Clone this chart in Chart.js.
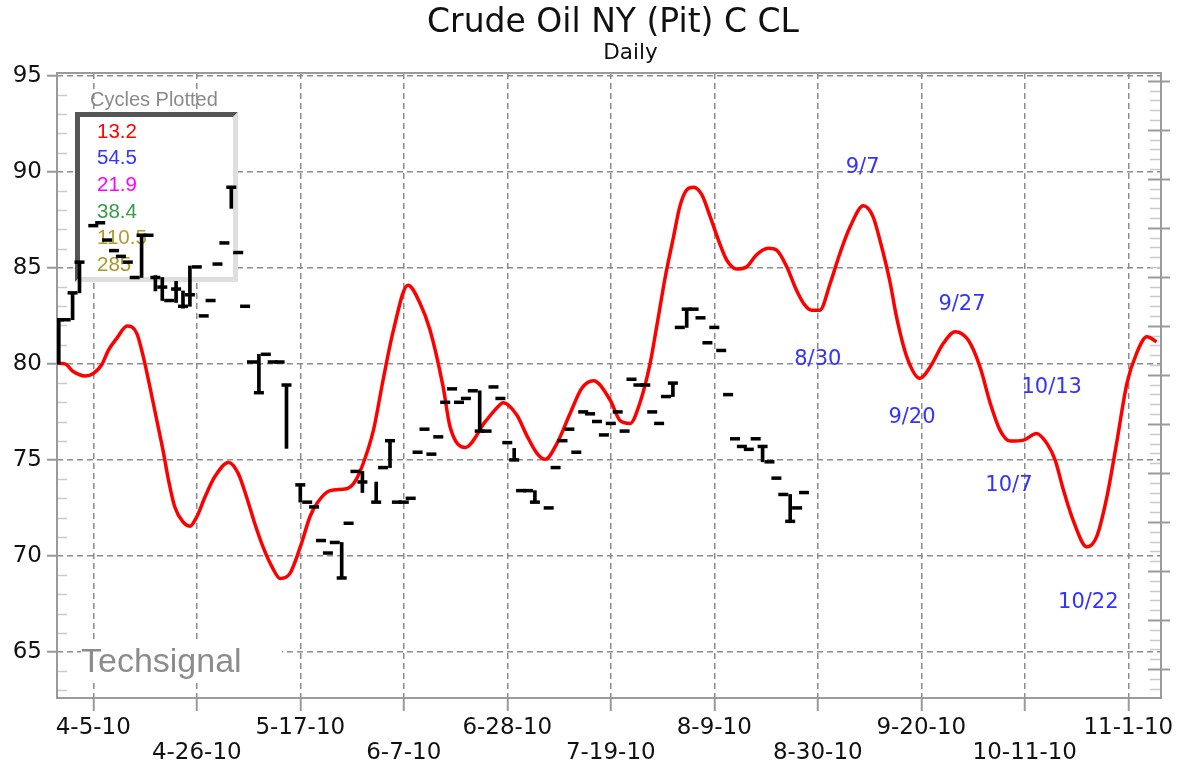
<!DOCTYPE html>
<html><head><meta charset="utf-8">
<script src="https://cdn.jsdelivr.net/npm/chart.js@4.4.0/dist/chart.umd.min.js"></script>
<style>html,body{margin:0;padding:0;background:#fff;overflow:hidden}
#wrap{position:relative;width:1185px;height:767px}</style>
</head><body><div id="wrap"><canvas id="c"></canvas></div>
<script>
// ---- data ----
const tickDays = [5,20,35,50,65,80,95,110,125,140,155];
const tickLabels = ['4-5-10','4-26-10','5-17-10','6-7-10','6-28-10','7-19-10','8-9-10','8-30-10','9-20-10','10-11-10','11-1-10'];
const yTickValues = [65,70,75,80,85,90,95];

const cycleDays = [-0.3,0.9,2.1,3.8,5.0,6.2,7.2,8.4,9.9,11.3,12.25,13.2,14.2,15.1,15.9,16.8,18.0,19.0,20.0,21.2,22.6,24.6,26.0,27.2,28.4,29.6,30.9,32.1,33.5,35.0,36.4,37.4,39.3,41.7,42.9,44.1,45.6,47.0,48.5,50.6,52.3,53.8,55.7,56.7,58.9,61.8,63.9,64.4,66.4,67.8,69.3,70.5,72.2,74.1,75.8,77.5,79.9,81.3,82.8,84.2,85.7,86.65,87.9,89.1,90.0,91.0,92.0,93.2,94.4,95.6,96.8,98.25,99.7,101.1,102.8,104.0,105.5,106.9,108.1,109.1,110.3,111.8,113.2,114.7,116.6,118.0,119.0,120.5,121.4,122.9,124.8,126.3,128.2,129.9,131.8,133.5,135.0,136.4,137.9,139.8,141.7,143.2,144.4,145.6,147.0,149.0,150.4,151.9,153.3,154.8,156.2,157.7,159.1];
const cycleValues = [80.03,80.0,79.6,79.37,79.5,79.94,80.72,81.33,81.97,81.59,80.37,78.81,77.07,75.51,73.95,72.56,71.77,71.55,72.04,73.08,74.12,74.87,74.3,73.08,71.69,70.47,69.43,68.82,69.09,70.47,72.04,72.73,73.4,73.5,73.86,74.8,76.55,79.16,81.76,84.1,83.2,81.76,78.8,76.73,75.65,76.99,77.86,77.98,77.33,76.29,75.34,75.03,75.86,77.42,78.73,79.12,78.12,77.07,76.9,77.95,80.03,81.94,84.54,86.63,88.19,89.06,89.2,88.8,87.67,86.45,85.41,84.94,85.06,85.67,86.02,85.93,85.06,83.85,83.07,82.8,82.8,84.2,85.75,87.15,88.23,87.67,86.45,84.2,82.46,80.37,79.25,79.85,81.07,81.68,81.24,79.85,77.94,76.55,75.98,76.03,76.38,75.86,74.99,73.43,71.86,70.47,70.99,73.08,75.86,78.99,80.55,81.41,81.15];

const priceDays = [0,1,2,3,5,6,7,8,9,10,11,12,13,14,15,16,17,18,19,20,21,22,23,24,25,26,27,28,29,30,31,32,33,35,36,37,38,39,40,41,42,43,44,46,47,48,49,50,51,52,53,54,55,56,57,58,59,60,61,62,63,64,65,66,67,68,69,71,72,73,74,75,76,77,78,79,80,81,82,83,84,85,86,87,88,89,90,91,92,93,94,95,96,97,98,99,100,101,102,103,104,105,106,107,108];
const priceClose = [82.3,82.3,83.7,85.3,87.2,87.35,86.45,85.9,85.6,85.3,84.5,86.7,86.7,84.5,84.0,83.3,83.9,83.0,83.6,85.05,82.5,83.3,85.2,86.3,89.2,85.8,83.0,80.1,78.5,80.5,80.1,80.1,78.9,73.7,72.8,72.55,70.8,70.15,70.7,68.85,71.7,74.4,73.85,72.8,74.6,76.0,72.8,72.8,73.0,75.4,76.6,75.3,76.2,78.0,78.7,78.0,78.2,78.6,76.5,76.5,78.8,78.2,75.9,75.0,73.4,73.4,72.8,72.5,74.6,76.0,76.6,75.4,77.5,77.4,77.0,76.3,76.9,77.5,76.5,79.2,78.9,78.9,77.5,76.9,78.3,79.0,81.9,82.85,82.85,82.4,81.1,81.9,80.7,78.4,76.1,75.7,75.55,76.1,75.7,74.9,74.05,73.2,71.8,72.5,73.3];

const rangeDays = [0,2,3,12,14,15,17,18,19,25,29,33,35,41,44,46,48,61,66,69,89,91,102,106];
const rangeLow  = [80.0,82.3,83.7,84.5,83.8,83.3,83.2,82.9,83.0,88.1,78.5,75.6,72.8,68.85,73.3,72.8,74.6,76.5,75.0,72.8,78.3,81.9,74.9,71.8];
const rangeHigh = [82.3,83.7,85.3,86.7,84.6,84.5,84.3,83.8,85.1,89.2,80.5,78.9,73.7,70.7,74.4,73.85,76.0,78.6,75.6,73.4,79.0,82.85,75.7,73.2];

const noteLabels = ['9/7','8/30','9/27','9/20','10/13','10/7','10/22'];
const noteDays   = [116.5,110,130.9,123.65,143.9,137.7,149.2];
const noteValues = [90.2,80.25,83.07,77.18,78.76,73.69,67.55];

const legendTitle = 'Cycles Plotted';
const legendLabels = ['13.2','54.5','21.9','38.4','110.5','285'];
const legendColors = ['#ff0000','#3434ff','#ff00ff','#3a9a48','#b49a2c','#a8962a'];

const titleText = 'Crude Oil NY (Pit) C CL';
const subtitleText = 'Daily';
const watermark = 'Techsignal';

// ---- chart ----
const FONT = '"DejaVu Sans", Verdana, sans-serif';
const FONT2 = '"Liberation Sans", Arial, sans-serif';

const decor = {
  id: 'decor',
  beforeDatasetsDraw(chart) {
    const {ctx, chartArea: a, scales} = chart;
    const y = scales.y, y2 = scales.y2;
    ctx.save();
    const seg = (x1, y1, x2, y2_) => { ctx.beginPath(); ctx.moveTo(x1, y1); ctx.lineTo(x2, y2_); ctx.stroke(); };
    // left minor ticks
    ctx.strokeStyle = '#cacaca'; ctx.lineWidth = 1.5;
    for (let v = Math.ceil(y.min); v <= y.max; v++) {
      if (v % 5 === 0) continue;
      const p = Math.round(y.getPixelForValue(v)) + 0.5;
      seg(a.left, p, a.left + 10, p);
    }
    // right axis ticks
    for (let k = Math.ceil(y2.min * 5); k <= Math.floor(y2.max * 5); k++) {
      const p = Math.round(y2.getPixelForValue(k / 5)) + 0.5;
      if (k % 5 === 0) { ctx.strokeStyle = '#9a9a9a'; ctx.lineWidth = 2; seg(a.right - 13, p, a.right + 9, p); }
      else { ctx.strokeStyle = '#cacaca'; ctx.lineWidth = 1.5; seg(a.right - 11, p, a.right - 1, p); }
    }
    // watermark
    ctx.fillStyle = '#fff'; ctx.fillRect(81, 640, 201, 42);
    ctx.font = '34px ' + FONT2; ctx.fillStyle = '#8c8c8c'; ctx.textAlign = 'left'; ctx.textBaseline = 'alphabetic';
    ctx.fillText(watermark, 81, 672);
    // legend box
    const L = 75, T = 112, R = 238, B = 282, w = 5;
    ctx.fillStyle = '#fff'; ctx.fillRect(L, T, R - L, B - T);
    ctx.fillStyle = '#555';
    ctx.beginPath(); ctx.moveTo(L, T); ctx.lineTo(R, T); ctx.lineTo(R - w, T + w); ctx.lineTo(L + w, T + w); ctx.lineTo(L + w, B - w); ctx.lineTo(L, B); ctx.closePath(); ctx.fill();
    ctx.fillStyle = '#dedede';
    ctx.beginPath(); ctx.moveTo(R, T); ctx.lineTo(R, B); ctx.lineTo(L, B); ctx.lineTo(L + w, B - w); ctx.lineTo(R - w, B - w); ctx.lineTo(R - w, T + w); ctx.closePath(); ctx.fill();
    ctx.font = '20px ' + FONT2; ctx.fillStyle = '#8a8a8a';
    ctx.fillText(legendTitle, 90, 106);
    ctx.font = '20.5px ' + FONT2;
    legendLabels.forEach((t, i) => { ctx.fillStyle = legendColors[i]; ctx.fillText(t, 97, 137.5 + i * 26.7); });
    // frame
    ctx.strokeStyle = '#9a9a9a'; ctx.lineWidth = 2;
    ctx.strokeRect(a.left, a.top, a.right - a.left, a.bottom - a.top);
    ctx.restore();
  },
  afterDatasetsDraw(chart) {
    const {ctx, scales: {x, y}} = chart;
    ctx.save();
    ctx.font = '21px ' + FONT; ctx.fillStyle = '#3333ff'; ctx.textAlign = 'center'; ctx.textBaseline = 'middle';
    noteLabels.forEach((t, i) => ctx.fillText(t, x.getPixelForValue(noteDays[i]), y.getPixelForValue(noteValues[i])));
    ctx.restore();
  },
  afterDraw(chart) {
    const {ctx} = chart;
    ctx.save();
    ctx.fillStyle = '#111'; ctx.textAlign = 'center'; ctx.textBaseline = 'alphabetic';
    ctx.font = '33px ' + FONT; ctx.fillText(titleText, 613, 32);
    ctx.font = '21.5px ' + FONT; ctx.fillText(subtitleText, 630.5, 59);
    ctx.restore();
  }
};

new Chart(document.getElementById('c'), {
  type: 'scatter',
  data: {
    datasets: [
      { type: 'scatter', data: priceDays.map((d, i) => ({x: d, y: priceClose[i]})),
        pointStyle: 'line', pointRadius: 5, pointHoverRadius: 5, pointBorderWidth: 3.5,
        pointBorderColor: '#000', pointBackgroundColor: '#000', showLine: false, order: 1 },
      { type: 'bar', data: rangeDays.map((d, i) => ({x: d, y: [rangeLow[i], rangeHigh[i]]})),
        backgroundColor: '#000', borderWidth: 0, barThickness: 3, grouped: false, order: 2 },
      { type: 'line', data: cycleDays.map((d, i) => ({x: d, y: cycleValues[i]})),
        borderColor: '#ff0000', borderWidth: 3.5, pointRadius: 0, fill: false,
        cubicInterpolationMode: 'monotone', order: 3 }
    ]
  },
  options: {
    responsive: true, maintainAspectRatio: false, animation: false,
    layout: { padding: { top: 73, right: 24, bottom: 0, left: 0 } },
    plugins: { legend: { display: false }, tooltip: { enabled: false }, title: { display: false } },
    scales: {
      x: {
        type: 'linear', min: -0.26, max: 159.74, offset: false,
        afterBuildTicks: s => { s.ticks = tickDays.map(v => ({value: v})); },
        afterFit: s => { s.height = 69; },
        grid: { color: '#8c8c8c', lineWidth: 1.5, offset: false, drawTicks: true, tickLength: 13, tickColor: '#9a9a9a', tickWidth: 2, tickBorderDash: [] },
        border: { display: false, dash: [6, 4] },
        ticks: {
          autoSkip: false, maxRotation: 0, minRotation: 0, padding: 5, color: '#111',
          font: { family: FONT, size: 23, lineHeight: 1.087 },
          callback: v => { const i = tickDays.indexOf(v); if (i < 0) return ''; return i % 2 === 0 ? [tickLabels[i], ''] : ['', tickLabels[i]]; }
        }
      },
      y: {
        type: 'linear', min: 62.6, max: 95.15,
        afterBuildTicks: s => { s.ticks = yTickValues.map(v => ({value: v})); },
        afterFit: s => { s.width = 57; },
        grid: { color: '#8c8c8c', lineWidth: 1.5, drawTicks: true, tickLength: 10, tickColor: '#9a9a9a', tickWidth: 2, tickBorderDash: [] },
        border: { display: false, dash: [6, 4] },
        ticks: { padding: 5, color: '#111', font: { family: FONT, size: 23 } }
      },
      y2: { type: 'linear', position: 'right', display: false, min: 0.41, max: 13.157 }
    }
  },
  plugins: [decor]
});
</script></body></html>
